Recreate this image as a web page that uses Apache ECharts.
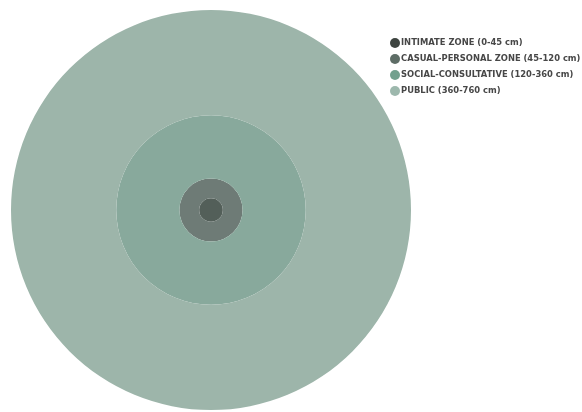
<!DOCTYPE html>
<html>
<head>
<meta charset="utf-8">
<script src="https://cdn.jsdelivr.net/npm/echarts@6/dist/echarts.min.js"></script>
<style>
html,body{margin:0;padding:0;background:#fff;}
#chart{width:582px;height:412px;}
</style>
</head>
<body>
<div id="chart"></div>
<script>
// Proxemic zones: outer boundary distance in cm
const zoneNames = [
  'INTIMATE ZONE (0-45 cm)',
  'CASUAL-PERSONAL ZONE (45-120 cm)',
  'SOCIAL-CONSULTATIVE (120-360 cm)',
  'PUBLIC (360-760 cm)'
];
const zoneStart = [0, 45, 120, 360];
const zoneEnd = [45, 120, 360, 760];
const fillColors = ['#535f59', '#6e7b76', '#88a99c', '#9db5aa'];
const legendColors = ['#3e4440', '#5e6d66', '#72a08e', '#9db8ad'];

const chart = echarts.init(document.getElementById('chart'));
const series = zoneNames.map((name, i) => ({
  name: name,
  type: 'bar',
  coordinateSystem: 'polar',
  stack: 'zones',
  barWidth: '100%',
  barCategoryGap: '0%',
  silent: true,
  itemStyle: { color: fillColors[i] },
  data: [zoneEnd[i] - zoneStart[i]]
}));

chart.setOption({
  animation: false,
  polar: { center: [211, 210], radius: 200 },
  angleAxis: {
    type: 'category',
    data: ['zone'],
    show: false,
    startAngle: 90
  },
  radiusAxis: {
    type: 'value',
    min: 0,
    max: 760,
    show: false
  },
  legend: {
    orient: 'vertical',
    left: 390,
    top: 38,
    padding: 0,
    itemWidth: 10,
    itemHeight: 10,
    itemGap: 6,
    icon: 'circle',
    selectedMode: false,
    textStyle: {
      fontFamily: 'DejaVu Sans',
      fontWeight: 'bold',
      fontSize: 8.4,
      color: '#474747',
      padding: [0, 0, 0, -4]
    },
    data: zoneNames.map((n, i) => ({ name: n, itemStyle: { color: legendColors[i] } }))
  },
  series: series
});
</script>
</body>
</html>
